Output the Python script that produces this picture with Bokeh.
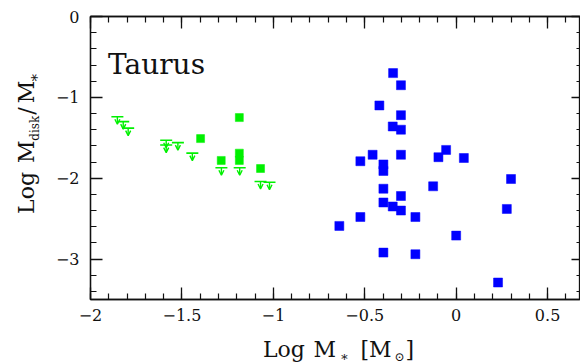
import math

from bokeh.core.properties import value
from bokeh.embed import file_html
from bokeh.layouts import column, row
from bokeh.models import (Arrow, ColumnDataSource, FixedTicker, Label,
                          LinearAxis, OpenHead, Range1d)
from bokeh.plotting import figure
from bokeh.resources import INLINE

# --- Taurus: log stellar mass vs. log disk-to-star mass ratio -------------
# disk masses from the survey (blue squares)
survey_logm = [-0.345, -0.302, -0.420, -0.302, -0.347, -0.302, -0.055, -0.457,
               -0.302, -0.097, 0.042, -0.524, -0.398, -0.398, 0.300, -0.126,
               -0.398, -0.302, -0.398, -0.347, -0.302, 0.277, -0.524, -0.223,
               -0.639, 0.000, -0.398, -0.223, 0.229]
survey_ratio = [-0.70, -0.85, -1.10, -1.22, -1.36, -1.40, -1.65, -1.71,
                -1.71, -1.74, -1.75, -1.79, -1.83, -1.91, -2.01, -2.10,
                -2.13, -2.22, -2.30, -2.35, -2.40, -2.38, -2.48, -2.48,
                -2.59, -2.71, -2.92, -2.94, -3.29]

# low-mass detections (green squares)
lowmass_logm = [-1.186, -1.398, -1.285, -1.186, -1.186, -1.070]
lowmass_ratio = [-1.25, -1.51, -1.78, -1.69, -1.78, -1.88]

# low-mass upper limits (green bars with arrows)
limit_logm = [-1.853, -1.821, -1.794, -1.586, -1.586, -1.522, -1.443,
              -1.284, -1.184, -1.070, -1.021]
limit_ratio = [-1.24, -1.30, -1.38, -1.53, -1.59, -1.56, -1.69,
               -1.87, -1.87, -2.04, -2.05]

x_major = [-2, -1.5, -1, -0.5, 0, 0.5]
x_labels = ["\u22122", "\u22121.5", "\u22121", "\u22120.5", "0", "0.5"]
y_major = [0, -1, -2, -3]
y_labels = ["0", "\u22121", "\u22122", "\u22123"]

X0, X1 = -2.0, 0.68
Y0, Y1 = -3.5, 0.0

# --- layout -----------------------------------------------------------------
W, H = 580, 364
TITLE_W = 45          # strip on the left holding the y title
TITLE_H = 30          # strip at the bottom holding the x title
MAIN_W = W - TITLE_W
MAIN_H = H - TITLE_H
LEFT, TOP = 90, 16    # frame corner on the page
B_LEFT = LEFT - TITLE_W
B_BOTTOM = 35
FRAME_W = W - LEFT
FRAME_H = MAIN_H - TOP - B_BOTTOM

BLUE = "#0000ff"
GREEN = "#00f000"
INK = "#111111"
FONT = "DejaVu Serif"


def px_x(px):
    """Page pixel column -> data x."""
    return X0 + (px - LEFT) * (X1 - X0) / FRAME_W


def px_y(py):
    """Page pixel row -> data y."""
    return Y1 - (py - TOP) * (Y1 - Y0) / FRAME_H


p = figure(width=MAIN_W, height=MAIN_H, output_backend="svg",
           toolbar_location=None,
           x_range=Range1d(X0, X1), y_range=Range1d(Y0, Y1),
           min_border_left=B_LEFT, min_border_right=0,
           min_border_top=TOP, min_border_bottom=B_BOTTOM)
p.title.visible = False
p.xgrid.visible = False
p.ygrid.visible = False
p.outline_line_color = INK
p.outline_line_width = 1.3
p.background_fill_color = "white"
p.border_fill_color = "white"

x_minor = [round(-2 + 0.1 * i, 1) for i in range(0, 27)]
y_minor = [round(-3.4 + 0.2 * i, 1) for i in range(0, 18)]
x_ticker = FixedTicker(ticks=x_major, minor_ticks=x_minor)
y_ticker = FixedTicker(ticks=y_major, minor_ticks=y_minor)


def style_axis(ax, major_len, minor_len, labels=None):
    ax.major_tick_in = major_len
    ax.major_tick_out = 0
    ax.minor_tick_in = minor_len
    ax.minor_tick_out = 0
    ax.major_tick_line_width = 1.3
    ax.minor_tick_line_width = 1.2
    ax.major_tick_line_color = INK
    ax.minor_tick_line_color = INK
    ax.axis_line_color = INK
    ax.axis_line_width = 1.3
    if labels is None:
        ax.major_label_text_font_size = "0px"
        ax.major_label_standoff = 0
    else:
        ax.major_label_text_font = FONT
        ax.major_label_text_font_size = "16px"
        ax.major_label_text_color = INK


xb = p.xaxis[0]
xb.ticker = x_ticker
xb.major_label_overrides = dict(zip(x_major, x_labels))
xb.major_label_standoff = 9
style_axis(xb, 12, 6, x_labels)

yl = p.yaxis[0]
yl.ticker = y_ticker
yl.major_label_overrides = dict(zip(y_major, y_labels))
yl.major_label_standoff = 11
yl.major_label_orientation = "horizontal"
style_axis(yl, 12, 6, y_labels)

xt = LinearAxis(ticker=x_ticker, major_label_overrides={t: "" for t in x_major})
style_axis(xt, 12, 6)
p.add_layout(xt, "above")

yr = LinearAxis(ticker=y_ticker, major_label_overrides={t: "" for t in y_major})
style_axis(yr, 9, 4)
p.add_layout(yr, "right")

# --- data -------------------------------------------------------------------
p.scatter(survey_logm, survey_ratio, marker="square", size=9,
          fill_color=BLUE, line_color=BLUE, line_width=0.5)
p.scatter(lowmass_logm, lowmass_ratio, marker="square", size=8,
          fill_color=GREEN, line_color=GREEN, line_width=0.5)

# upper limits: a bar at the limit plus a short arrow pointing down
ARROW_PX = 7.5
drop = ARROW_PX * (Y1 - Y0) / FRAME_H
lim_src = ColumnDataSource(dict(
    x=limit_logm, y=limit_ratio,
    y_tip=[v - drop for v in limit_ratio]))
p.scatter("x", "y", source=lim_src, marker="dash", size=12,
          line_color=GREEN, line_width=1.6)
p.add_layout(Arrow(source=lim_src, x_start="x", y_start="y",
                   x_end="x", y_end="y_tip",
                   line_color=GREEN, line_width=1.4,
                   end=OpenHead(size=5, line_color=GREEN, line_width=1.4)))

p.add_layout(Label(x=px_x(107.5), y=px_y(64.0), text="Taurus",
                   text_font=FONT, text_font_size="28px", text_color=INK,
                   text_baseline="middle"))


# --- axis titles, drawn in their own strips (page-pixel coordinates) --------
def strip(width, height, x0, y0):
    f = figure(width=width, height=height, output_backend="svg",
               toolbar_location=None, x_axis_type=None, y_axis_type=None,
               x_range=Range1d(x0, x0 + width),
               y_range=Range1d(y0 + height, y0),
               min_border_left=0, min_border_right=0,
               min_border_top=0, min_border_bottom=0)
    f.title.visible = False
    f.xgrid.visible = False
    f.ygrid.visible = False
    f.outline_line_color = None
    f.background_fill_color = "white"
    f.border_fill_color = "white"
    return f


def put(f, text, x, y, size, angle=0.0, align="left"):
    # y (or x, when rotated) is the middle line of the text
    f.text(x=[x], y=[y], text=[text], angle=angle,
           text_font=value(FONT), text_font_size=f"{size}px",
           text_color=INK, text_align=align, text_baseline="middle")


# x title:  Log M_* [M_sun]
fx = strip(W, TITLE_H, 0, MAIN_H)
put(fx, "Log", 262.5, 348.5, 22)
put(fx, "M", 313.0, 348.5, 22)
put(fx, "\u2217", 343.8, 356.0, 13, align="center")
put(fx, "[M", 360.0, 348.5, 22)
put(fx, "\u2299", 399.0, 356.5, 12, align="center")
put(fx, "]", 405.0, 348.5, 22)

# y title:  Log M_disk / M_*
fy = strip(TITLE_W, MAIN_H, 0, 0)
up = math.pi / 2
put(fy, "Log", 25.5, 233.0, 22, angle=up)
put(fy, "M", 25.5, 173.0, 22, angle=up)
put(fy, "disk", 34.3, 146.7, 12, angle=up)
put(fy, "/", 25.5, 116.0, 22, angle=up)
put(fy, "M", 25.5, 102.5, 22, angle=up)
put(fy, "\u2217", 33.4, 72.5, 15, angle=up, align="center")

page = column(row(fy, p, spacing=0), fx, spacing=0)
open("out.html", "w").write(file_html(page, INLINE))
